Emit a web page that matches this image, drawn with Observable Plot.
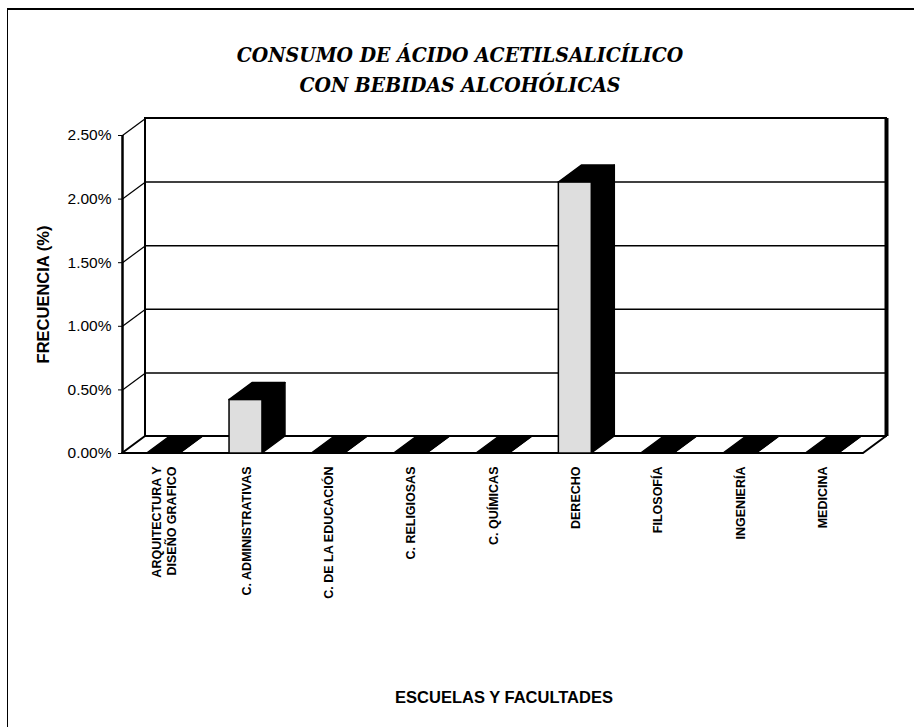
<!DOCTYPE html>
<html>
<head>
<meta charset="utf-8">
<script src="https://cdn.jsdelivr.net/npm/d3@7"></script>
<script src="https://cdn.jsdelivr.net/npm/@observablehq/plot@0.6"></script>
<style>
  html, body { margin: 0; padding: 0; background: #fff; }
  body { width: 914px; height: 727px; position: relative; overflow: hidden; font-family: "Liberation Sans", Arial, sans-serif; }
  #frame { position: absolute; left: 7px; top: 8px; width: 920px; height: 730px; border-top: 2px solid #000; border-left: 1.5px solid #000; box-sizing: border-box; }
  #title { position: absolute; left: 0; top: 40px; width: 920px; text-align: center; font-family: "DejaVu Serif Condensed", "DejaVu Serif", serif; font-stretch: condensed; font-weight: bold; font-style: italic; font-size: 21px; line-height: 30px; color: #000; }
  #chart { position: absolute; left: 0; top: 100px; }
</style>
</head>
<body>
<div id="frame"></div>
<div id="title">CONSUMO DE ÁCIDO ACETILSALICÍLICO<br>CON BEBIDAS ALCOHÓLICAS</div>
<div id="chart"></div>
<script>
// ---- data ----
const categories = [
  "ARQUITECTURA Y\nDISEÑO GRAFICO",
  "C. ADMINISTRATIVAS",
  "C. DE LA EDUCACIÓN",
  "C. RELIGIOSAS",
  "C. QUÍMICAS",
  "DERECHO",
  "FILOSOFÍA",
  "INGENIERÍA",
  "MEDICINA"
];
const values = [0, 0.42, 0, 0, 0, 2.13, 0, 0, 0]; // percent
const yTicks = [0, 0.5, 1, 1.5, 2, 2.5];
const yTickLabels = ["0.00%", "0.50%", "1.00%", "1.50%", "2.00%", "2.50%"];
const yTitle = "FRECUENCIA (%)";
const xTitle = "ESCUELAS Y FACULTADES";

// ---- layout ----
const W = 914, H = 627;
const mL = 122, mR = 51, mT = 35, mB = 274;
const n = categories.length;
const yMax = yTicks[yTicks.length - 1];
const depthPx = {dx: 23, dy: 17};
const ddx = depthPx.dx * n / (W - mL - mR);
const ddy = depthPx.dy * yMax / (H - mT - mB);
const hw = 0.2;

const bars = categories.map((c, i) => ({i, c, v: values[i], x0: i + 0.5 - hw, x1: i + 0.5 + hw}));
const sideRows = bars.flatMap(b => [
  {k: b.i, x: b.x1, y1: 0, y2: b.v},
  {k: b.i, x: b.x1 + ddx, y1: ddy, y2: b.v + ddy}
]);
const topRows = bars.flatMap(b => [
  {k: b.i, y: b.v, x1: b.x0, x2: b.x1},
  {k: b.i, y: b.v + ddy, x1: b.x0 + ddx, x2: b.x1 + ddx}
]);
const floorRows = [
  {y: 0, x1: 0, x2: n},
  {y: ddy, x1: ddx, x2: n + ddx}
];
const backWall = [{x1: ddx, x2: n + ddx, y1: ddy, y2: yMax + ddy}];

const chart = Plot.plot({
  width: W, height: H,
  marginLeft: mL, marginRight: mR, marginTop: mT, marginBottom: mB,
  style: {fontFamily: "'Liberation Sans', Arial, sans-serif", fontSize: "13px", color: "#000", background: "transparent"},
  x: {domain: [0, n], axis: null},
  y: {domain: [0, yMax], axis: null},
  marks: [
    // back wall
    Plot.rect(backWall, {x1: "x1", x2: "x2", y1: "y1", y2: "y2", fill: "white", stroke: "black", strokeWidth: 2}),
    Plot.ruleY(yTicks.slice(0, -1), {y: d => d + ddy, x1: ddx, x2: n + ddx, stroke: "black", strokeWidth: 1.5}),
    Plot.ruleX([n + ddx], {y1: ddy, y2: yMax + ddy, stroke: "black", strokeWidth: 4}),
    // side wall lines
    Plot.link(yTicks, {x1: 0, x2: ddx, y1: d => d, y2: d => d + ddy, stroke: "black", strokeWidth: 1.2}),
    // floor
    Plot.areaX(floorRows, {y: "y", x1: "x1", x2: "x2", fill: "white", stroke: "black", strokeWidth: 2}),
    // bars: side & top faces
    Plot.areaY(sideRows, {x: "x", y1: "y1", y2: "y2", z: "k", fill: "black", stroke: "black", strokeWidth: 1.5}),
    Plot.areaX(topRows, {y: "y", x1: "x1", x2: "x2", z: "k", fill: "black", stroke: "black", strokeWidth: 1.5}),
    // bars: front faces
    Plot.rect(bars.filter(b => b.v > 0), {x1: "x0", x2: "x1", y1: 0, y2: "v", fill: "#dedede", stroke: "black", strokeWidth: 1.5}),
    // front axis
    Plot.ruleX([0], {y1: 0, y2: yMax, stroke: "black", strokeWidth: 2.5}),
    Plot.axisY(yTicks, {anchor: "left", tickSize: 4, tickPadding: 7, fontSize: 15.5, tickFormat: d => yTickLabels[yTicks.indexOf(d)]}),
    // category labels
    Plot.text(bars, {x: d => d.i + 0.5, y: 0, text: "c", rotate: -90, textAnchor: "end", lineAnchor: "middle", dy: 13, fontWeight: "bold", fontSize: 12.5, lineHeight: 1.2}),
    // axis titles
    Plot.text([yTitle], {text: d => d, frameAnchor: "left", textAnchor: "middle", rotate: -90, dx: -79, fontWeight: "bold", fontSize: 16.5}),
    Plot.text([xTitle], {text: d => d, frameAnchor: "bottom", textAnchor: "middle", lineAnchor: "middle", dy: 244, dx: 11, fontWeight: "bold", fontSize: 16.5})
  ]
});
document.getElementById("chart").appendChild(chart);
</script>
</body>
</html>
